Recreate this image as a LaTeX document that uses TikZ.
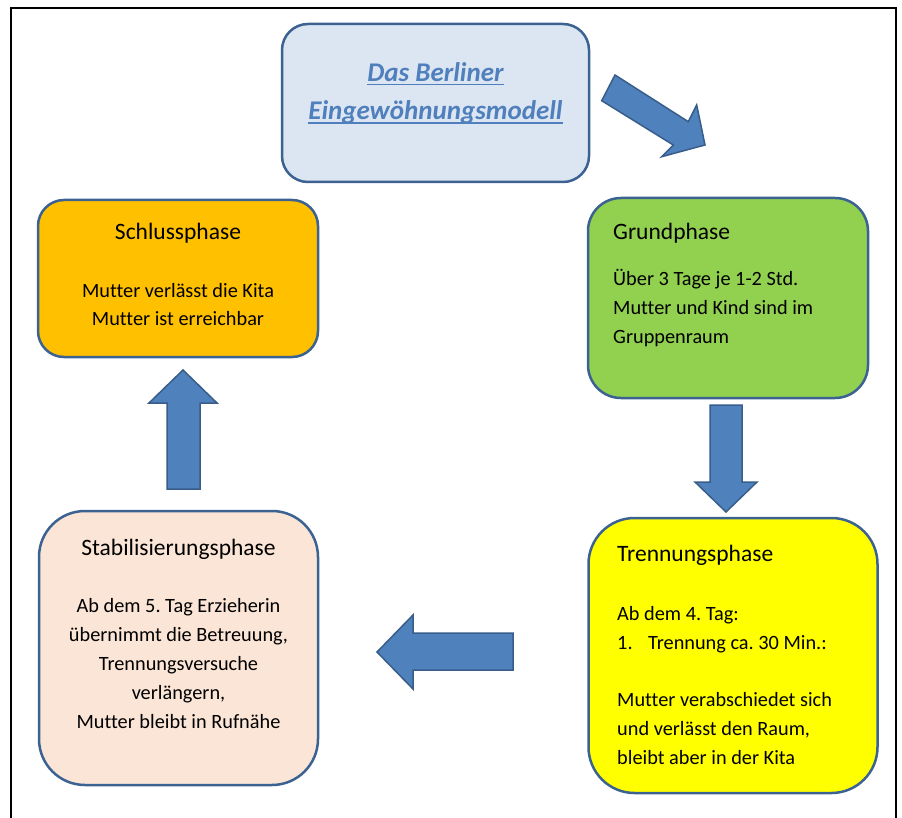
\documentclass[tikz,border=0pt]{standalone}
\usepackage{fontspec}
\setmainfont[Ligatures=CommonOff]{Carlito}
\definecolor{arrowblue}{HTML}{4F81BD}
\definecolor{arrowline}{HTML}{385D8A}
\definecolor{boxline}{HTML}{3B6291}
\definecolor{titlefill}{HTML}{DCE6F2}
\definecolor{titleblue}{HTML}{4F7FBC}
\definecolor{schlussfill}{HTML}{FFC000}
\definecolor{grundfill}{HTML}{92D050}
\definecolor{trennfill}{HTML}{FFFF00}
\definecolor{stabilfill}{HTML}{FBE5D6}
\frenchspacing
\begin{document}
\begin{tikzpicture}[x=1pt,y=-1pt,
  phase/.style={draw=boxline, line width=2.5pt, rectangle, inner sep=0pt},
  body/.style={font=\fontsize{20.3}{28.7}\selectfont, inner sep=0pt, text=black},
  headtxt/.style={font=\fontsize{23.5}{28}\selectfont, inner sep=0pt, text=black},
  titletxt/.style={font=\fontsize{27}{38}\selectfont\bfseries\itshape, inner sep=0pt, text=titleblue},
  blockarrow/.style={fill=arrowblue, draw=arrowline, line width=1.5pt, line join=miter}]
\useasboundingbox (0,0) rectangle (902,818);
% outer frame (open at the bottom)
\draw[line width=2pt] (11,818) -- (11,8) -- (896,8) -- (896,818);

% boxes
\node[phase, fill=titlefill, rounded corners=26pt, minimum width=307pt, minimum height=158pt] (title) at (435.5,103) {};
\node[phase, fill=schlussfill, rounded corners=26pt, minimum width=280pt, minimum height=157pt] (schluss) at (178,278.5) {};
\node[phase, fill=grundfill, rounded corners=33pt, minimum width=280pt, minimum height=200pt] (grund) at (728,298) {};
\node[phase, fill=trennfill, rounded corners=46pt, minimum width=289pt, minimum height=275pt] (trenn) at (733,655.5) {};
\node[phase, fill=stabilfill, rounded corners=46pt, minimum width=279pt, minimum height=274pt] (stabil) at (178.5,648) {};

% title text
\node[titletxt, anchor=base] (t1) at (435.5,81.5) {Das Berliner};
\node[titletxt, anchor=base] (t2) at (435.5,120) {Eingewöhnungsmodell};
\draw[titleblue, line width=1.4pt] ([yshift=-2.8pt]t1.base west) -- ([yshift=-2.8pt]t1.base east);
\draw[titleblue, line width=1.4pt] ([yshift=-3.2pt]t2.base west) -- ([yshift=-3.2pt]t2.base east);

% Schlussphase
\node[headtxt, anchor=base] (s0) at (178,240) {Schlussphase};
\node[body, anchor=base] (s1) at (178,297.3) {Mutter verlässt die Kita};
\node[body, anchor=base] (s2) at (178,325.7) {Mutter ist erreichbar};

% Grundphase
\node[headtxt, anchor=base west] (g0) at (613,239.3) {Grundphase};
\node[body, anchor=base west] (g1) at (613,286) {Über 3 Tage je 1-2 Std.};
\node[body, anchor=base west] (g2) at (613,314.3) {Mutter und Kind sind im};
\node[body, anchor=base west] (g3) at (613,343) {Gruppenraum};

% Trennungsphase
\node[headtxt, anchor=base west] (r0) at (617,561.7) {Trennungsphase};
\node[body, anchor=base west] (r1) at (617,620.7) {Ab dem 4. Tag:};
\node[body, anchor=base west] (r2) at (617,649.3) {\makebox[31pt][l]{1.}Trennung ca. 30 Min.:};
\node[body, anchor=base west] (r3) at (617,706.7) {Mutter verabschiedet sich};
\node[body, anchor=base west] (r4) at (617,735.7) {und verlässt den Raum,};
\node[body, anchor=base west] (r5) at (617,764) {bleibt aber in der Kita};

% Stabilisierungsphase
\node[headtxt, anchor=base] (b0) at (178.5,555) {Stabilisierungsphase};
\node[body, anchor=base] (b1) at (178.5,612.7) {Ab dem 5. Tag Erzieherin};
\node[body, anchor=base] (b2) at (178.5,641.7) {übernimmt die Betreuung,};
\node[body, anchor=base] (b3) at (178.5,670) {Trennungsversuche};
\node[body, anchor=base] (b4) at (178.5,699.3) {verlängern,};
\node[body, anchor=base] (b5) at (178.5,728.3) {Mutter bleibt in Rufnähe};

% block arrows
\draw[blockarrow] (601.7,100.7) -- (615,75) -- (688.3,121.7) -- (696.7,105) -- (705,145) -- (661.7,156.7) -- (673.3,145) -- cycle;
\draw[blockarrow] (710,405) -- (742,405) -- (742,482) -- (757,482) -- (726,512) -- (695,482) -- (710,482) -- cycle;
\draw[blockarrow] (513,633) -- (513,670) -- (413,670) -- (413,689) -- (377,652) -- (413,615) -- (413,633) -- cycle;
\draw[blockarrow] (167,489) -- (167,403) -- (149,403) -- (183,370) -- (217,403) -- (200,403) -- (200,489) -- cycle;
\end{tikzpicture}
\end{document}
